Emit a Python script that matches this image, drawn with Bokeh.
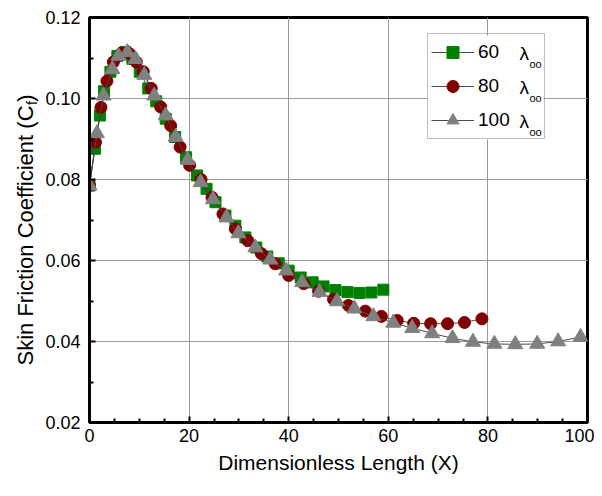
import math
from bokeh.plotting import figure
from bokeh.layouts import row
from bokeh.models import FixedTicker, NumeralTickFormatter, Legend, LegendItem
from bokeh.core.properties import value
from bokeh.embed import file_html
from bokeh.resources import INLINE

# ---- data ----
x60 = [0.0, 1.1, 2.1, 2.9, 4.2, 5.6, 7.2, 8.6, 10.1, 11.8, 13.4, 15.3, 17.2, 19.4,
       21.6, 23.5, 25.3, 27.3, 29.3, 31.3, 33.5, 35.7, 38.0, 40.0, 42.4, 44.8,
       47.0, 49.4, 51.8, 54.2, 56.6, 59.0]
cf60 = [0.0785, 0.0876, 0.0958, 0.1018, 0.1066, 0.1105, 0.1115, 0.1098, 0.1066,
        0.1025, 0.0993, 0.0950, 0.0905, 0.0855, 0.0810, 0.0777, 0.0744, 0.0711,
        0.0686, 0.0657, 0.0632, 0.0610, 0.0593, 0.0575, 0.0558, 0.0546, 0.0536,
        0.0527, 0.0522, 0.0520, 0.0521, 0.0528]

x80 = [0.0, 1.2, 2.3, 3.5, 4.8, 6.4, 8.1, 9.4, 10.8, 12.4, 14.3, 16.3, 18.2, 20.1,
       22.4, 24.6, 26.8, 29.3, 31.8, 34.5, 37.3, 40.0, 43.0, 46.0, 49.0, 52.0,
       55.4, 58.6, 61.8, 65.1, 68.5, 71.9, 75.3, 78.8]
cf80 = [0.0785, 0.0892, 0.0978, 0.1043, 0.1090, 0.1112, 0.1110, 0.1090, 0.1066,
        0.1025, 0.0979, 0.0933, 0.0880, 0.0835, 0.0800, 0.0756, 0.0715, 0.0678,
        0.0649, 0.0617, 0.0592, 0.0563, 0.0543, 0.0524, 0.0504, 0.0489, 0.0475,
        0.0462, 0.0452, 0.0445, 0.0444, 0.0444, 0.0447, 0.0456]

x100 = [0.0, 1.5, 2.8, 4.6, 5.8, 7.6, 9.2, 11.0, 13.0, 15.3, 17.3, 19.7, 22.3,
        24.8, 27.5, 29.9, 33.3, 36.3, 39.5, 42.7, 46.2, 49.7, 53.2, 57.0, 61.0,
        64.8, 68.8, 72.9, 77.0, 81.3, 85.5, 89.9, 94.1, 98.6]
cf100 = [0.0785, 0.0914, 0.1007, 0.1072, 0.1105, 0.1114, 0.1097, 0.1058, 0.1007,
         0.0958, 0.0905, 0.0848, 0.0793, 0.0751, 0.0706, 0.0667, 0.0632, 0.0602,
         0.0575, 0.0546, 0.0522, 0.0499, 0.0481, 0.0462, 0.0446, 0.0433, 0.0420,
         0.0408, 0.0399, 0.0394, 0.0393, 0.0394, 0.0400, 0.0411]

series_labels = ["60", "80", "100"]
x_ticks = [0, 20, 40, 60, 80, 100]
x_minor = [5, 10, 15, 25, 30, 35, 45, 50, 55, 65, 70, 75, 85, 90, 95]
y_ticks = [0.02, 0.04, 0.06, 0.08, 0.10, 0.12]
y_minor = [0.03, 0.05, 0.07, 0.09, 0.11]

FONT = "Liberation Sans"
H = 488
LABEL_W = 40

# ---------------- main plot ----------------
p = figure(width=594 - LABEL_W, height=H, x_range=(0, 100), y_range=(0.02, 0.12),
           output_backend="svg", toolbar_location=None,
           min_border_left=89 - LABEL_W, min_border_right=7, min_border_top=17,
           min_border_bottom=66)
p.background_fill_color = "white"
p.border_fill_color = "white"
p.outline_line_color = "black"
p.outline_line_width = 3

for g in (p.xgrid, p.ygrid):
    g.grid_line_color = "#9a9a9a"
    g.grid_line_width = 1
p.xgrid.ticker = FixedTicker(ticks=x_ticks)
p.ygrid.ticker = FixedTicker(ticks=y_ticks)

p.xaxis.ticker = FixedTicker(ticks=x_ticks, minor_ticks=x_minor)
p.yaxis.ticker = FixedTicker(ticks=y_ticks, minor_ticks=y_minor)
p.yaxis.formatter = NumeralTickFormatter(format="0.00")
for ax in (p.xaxis[0], p.yaxis[0]):
    ax.axis_line_width = 3
    ax.axis_line_color = "black"
    ax.major_tick_in = 6
    ax.major_tick_out = 0
    ax.minor_tick_in = 4
    ax.minor_tick_out = 0
    ax.major_tick_line_width = 2
    ax.minor_tick_line_width = 2
    ax.major_label_text_font = FONT
    ax.major_label_text_font_size = "18px"
    ax.major_label_text_color = "black"
p.yaxis.major_label_standoff = 9
p.xaxis.major_label_standoff = 6
p.xaxis.axis_label = "Dimensionless Length (X)"
p.xaxis.axis_label_text_font = FONT
p.xaxis.axis_label_text_font_size = "21px"
p.xaxis.axis_label_text_font_style = "normal"
p.xaxis.axis_label_text_color = "black"
p.xaxis.axis_label_standoff = 6

# legend box (frame pixels) and its white background, so grid lines are hidden
LEG_X, LEG_Y, LEG_W, LEG_H = 338, 283, 116, 104
px_per_x = 498 / 100.0
px_per_y = 405 / 0.10
p.quad(left=[LEG_X / px_per_x], right=[(LEG_X + LEG_W) / px_per_x],
       bottom=[0.02 + LEG_Y / px_per_y], top=[0.02 + (LEG_Y + LEG_H) / px_per_y],
       fill_color="white", line_color=None)

# series
line_color = "#4a4a4a"
l60 = p.line(x60, cf60, line_color=line_color, line_width=1)
s60 = p.scatter(x60, cf60, marker="square", size=11, fill_color="#008000",
                line_color="#008000")
l80 = p.line(x80, cf80, line_color=line_color, line_width=1)
s80 = p.scatter(x80, cf80, marker="circle", size=12, fill_color="#800000",
                line_color="#800000")
l100 = p.line(x100, cf100, line_color=line_color, line_width=1)
s100 = p.scatter(x100, cf100, marker="triangle", size=15, fill_color="#808080",
                 line_color="#808080")

# lambda with subscript next to each legend entry
row_top = LEG_Y + LEG_H          # frame pixels from bottom
row_centers = [row_top - 3 - 15 - i * 34 for i in range(3)]
lam_x = [(LEG_X + 92) / px_per_x] * 3
sub_x = [(LEG_X + 102) / px_per_x] * 3
lam_y = [0.02 + c / px_per_y for c in row_centers]
sub_y = [0.02 + (c - 10) / px_per_y for c in row_centers]
p.text(x=lam_x, y=lam_y, text=["λ"] * 3, text_font=value(FONT),
       text_font_size=value("19px"), text_baseline="middle", text_align="left",
       text_color="black")
p.text(x=sub_x, y=sub_y, text=["oo"] * 3, text_font=value(FONT),
       text_font_size=value("11px"), text_baseline="middle", text_align="left",
       text_color="black")

legend = Legend(items=[LegendItem(label=series_labels[0], renderers=[l60, s60]),
                       LegendItem(label=series_labels[1], renderers=[l80, s80]),
                       LegendItem(label=series_labels[2], renderers=[l100, s100])],
                location=(LEG_X, LEG_Y), margin=0, padding=3, spacing=4,
                glyph_width=43, glyph_height=30, label_standoff=4,
                label_width=63, label_height=30,
                label_text_font=FONT, label_text_font_size="19px",
                label_text_color="black",
                border_line_color="#808080", border_line_width=1,
                background_fill_alpha=0.0)
p.add_layout(legend, "center")

# ---------------- y-axis title strip ----------------
yl = figure(width=LABEL_W, height=H, x_range=(0, LABEL_W), y_range=(0, H),
            output_backend="svg", toolbar_location=None,
            x_axis_location=None, y_axis_location=None,
            min_border_left=0, min_border_right=0, min_border_top=0,
            min_border_bottom=0)
yl.outline_line_color = None
yl.xgrid.visible = False
yl.ygrid.visible = False
yl.background_fill_color = "white"
yl.border_fill_color = "white"

junction = H - 106
yl.text(x=[25], y=[junction], text=["Skin Friction Coefficient (C"],
        angle=math.pi / 2, text_font=value(FONT), text_font_size=value("22px"),
        text_baseline="middle", text_align="right", text_color="black")
yl.text(x=[31], y=[junction + 0.5], text=["f"], angle=math.pi / 2,
        text_font=value(FONT), text_font_size=value("14px"),
        text_baseline="middle", text_align="left", text_color="black")
yl.text(x=[25], y=[junction + 4.5], text=[")"], angle=math.pi / 2,
        text_font=value(FONT), text_font_size=value("22px"),
        text_baseline="middle", text_align="left", text_color="black")

layout = row(yl, p, spacing=0)
open("out.html", "w").write(file_html(layout, INLINE))
